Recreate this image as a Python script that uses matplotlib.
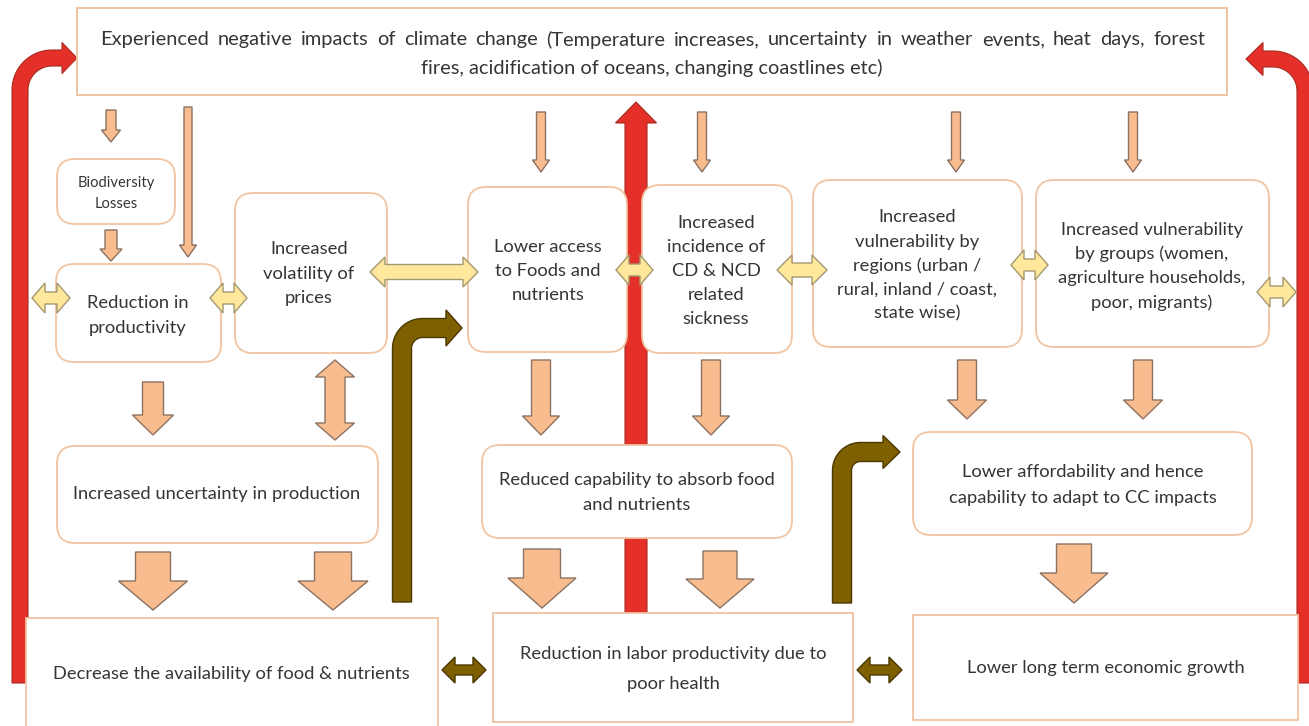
import numpy as np
import matplotlib
matplotlib.use("Agg")
import matplotlib.pyplot as plt
from matplotlib.patches import FancyBboxPatch, Polygon, Rectangle

plt.rcParams['font.family'] = ['Lato', 'DejaVu Sans']

# ---------------- data (texts) ----------------
top_line1 = ("Experienced negative impacts of climate change (Temperature increases, "
             "uncertainty in weather events, heat days, forest")
top_line2 = "fires, acidification of oceans, changing coastlines etc)"

box_labels = {
    'bio': ["Biodiversity", "Losses"],
    'prod': ["Reduction in", "productivity"],
    'vol': ["Increased", "volatility of", "prices"],
    'access': ["Lower access", "to Foods and", "nutrients"],
    'cd': ["Increased", "incidence of", "CD & NCD", "related", "sickness"],
    'regions': ["Increased", "vulnerability by", "regions (urban /", "rural, inland / coast,", "state wise)"],
    'groups': ["Increased vulnerability", "by groups (women,", "agriculture households,", "poor, migrants)"],
    'uncert': ["Increased uncertainty in production"],
    'avail': ["Decrease the availability of food & nutrients"],
    'absorb': ["Reduced capability to absorb food", "and nutrients"],
    'labor': ["Reduction in labor productivity due to", "poor health"],
    'afford': ["Lower affordability and hence", "capability to adapt to CC impacts"],
    'growth': ["Lower long term economic growth"],
}

# ---------------- layout (pixel coordinates) ----------------
W, H = 1309, 726
# box: (x0, y0, x1, y1, rounded)
box_geom = {
    'bio': (57, 159, 175, 224, True),
    'prod': (56, 264, 221, 362, True),
    'vol': (235, 193, 387, 353, True),
    'access': (468, 187, 627, 352, True),
    'cd': (642, 185, 792, 353, True),
    'regions': (813, 180, 1022, 347, True),
    'groups': (1036, 180, 1269, 347, True),
    'uncert': (57, 446, 378, 543, True),
    'avail': (26, 618, 438, 745, False),
    'absorb': (482, 445, 792, 538, True),
    'labor': (493, 613, 853, 722, False),
    'afford': (913, 432, 1252, 535, True),
    'growth': (913, 615, 1298, 720, False),
}
FS = 13.2
# text: (x center, first line y, line step, font size)
text_geom = {
    'bio': (116, 182, 20, 10.6),
    'prod': (138, 302, 24, FS),
    'vol': (309, 248, 24, FS),
    'access': (548, 245, 24, FS),
    'cd': (716, 222, 24, FS),
    'regions': (917, 216, 24, FS),
    'groups': (1152, 228, 24.3, FS),
    'uncert': (217, 493, 24, FS),
    'avail': (231, 672, 24, FS),
    'absorb': (637, 479, 25, FS),
    'labor': (673, 653, 29, FS),
    'afford': (1083, 471, 25, FS),
    'growth': (1106, 666, 24, FS),
}

ORANGE = dict(fc='#f9bc8f', ec='#8b7262', lw=1.0)
YELLOW = dict(fc='#ffe79c', ec='#a39870', lw=1.0)
BROWN = dict(fc='#7f6000', ec='#4a3800', lw=1.0)
RED = dict(fc='#e5302a', ec='#a82a20', lw=0.8)
BOX_EC = '#f1c4a2'
TXT = '#353535'

fig = plt.figure(figsize=(W / 100, H / 100), dpi=100)
ax = fig.add_axes([0, 0, 1, 1])
ax.set_xlim(0, W)
ax.set_ylim(H, 0)
ax.axis('off')
fig.patch.set_facecolor('white')


def poly(pts, style, z=3):
    ax.add_patch(Polygon(pts, closed=True, zorder=z, joinstyle='miter', **style))


def down_arrow(xc, y0, y1, sw, hw, hl, style):
    poly([(xc - sw / 2, y0), (xc + sw / 2, y0), (xc + sw / 2, y1 - hl), (xc + hw / 2, y1 - hl),
          (xc, y1), (xc - hw / 2, y1 - hl), (xc - sw / 2, y1 - hl)], style)


def up_arrow(xc, y0, y1, sw, hw, hl, style, z=1):
    poly([(xc, y0), (xc + hw / 2, y0 + hl), (xc + sw / 2, y0 + hl), (xc + sw / 2, y1),
          (xc - sw / 2, y1), (xc - sw / 2, y0 + hl), (xc - hw / 2, y0 + hl)], style, z)


def vdouble(xc, y0, y1, sw, hw, hl, style):
    poly([(xc, y0), (xc + hw / 2, y0 + hl), (xc + sw / 2, y0 + hl), (xc + sw / 2, y1 - hl),
          (xc + hw / 2, y1 - hl), (xc, y1), (xc - hw / 2, y1 - hl), (xc - sw / 2, y1 - hl),
          (xc - sw / 2, y0 + hl), (xc - hw / 2, y0 + hl)], style)


def hdouble(x0, x1, yc, sh, hh, hl, style):
    poly([(x0, yc), (x0 + hl, yc - hh / 2), (x0 + hl, yc - sh / 2), (x1 - hl, yc - sh / 2),
          (x1 - hl, yc - hh / 2), (x1, yc), (x1 - hl, yc + hh / 2), (x1 - hl, yc + sh / 2),
          (x0 + hl, yc + sh / 2), (x0 + hl, yc + hh / 2)], style)


def bent_arrow(xc, ybot, yc, xtip, xbase, w, hh, R, style, mirror=False, z=3):
    cx = xc - w / 2 + R
    cy = yc - w / 2 + R
    r = R - w
    pts = [(xc - w / 2, ybot), (xc - w / 2, cy)]
    for t in np.linspace(np.pi, 1.5 * np.pi, 24):
        pts.append((cx + R * np.cos(t), cy + R * np.sin(t)))
    pts += [(xbase, yc - w / 2), (xbase, yc - hh / 2), (xtip, yc), (xbase, yc + hh / 2),
            (xbase, yc + w / 2)]
    for t in np.linspace(1.5 * np.pi, np.pi, 24):
        pts.append((cx + r * np.cos(t), cy + r * np.sin(t)))
    pts.append((xc + w / 2, ybot))
    if mirror:
        pts = [(2 * xc - x, y) for x, y in pts]
    poly(pts, style, z)


# ---------------- red feedback arrows (behind boxes) ----------------
up_arrow(636, 102, 613, 22, 41, 21, RED, z=1)
bent_arrow(20, 683, 58, 77, 62, 16, 31, 40, RED, z=1)
bent_arrow(1305, 683, 59, 2 * 1305 - 1246, 2 * 1305 - 1263, 16, 33, 40, RED, mirror=True, z=1)

# ---------------- boxes ----------------
ax.add_patch(Rectangle((77, 8), 1227 - 77, 95 - 8, fc='white', ec=BOX_EC, lw=1.4, zorder=2))
for key, (x0, y0, x1, y1, rounded) in box_geom.items():
    if rounded:
        p = FancyBboxPatch((x0, y0), x1 - x0, y1 - y0,
                           boxstyle="round,pad=0,rounding_size=18",
                           fc='white', ec=BOX_EC, lw=1.3, zorder=2)
    else:
        p = Rectangle((x0, y0), x1 - x0, y1 - y0, fc='white', ec=BOX_EC, lw=1.3, zorder=2)
    ax.add_patch(p)

# ---------------- box texts ----------------
for key, lines in box_labels.items():
    xc, y0, step, fs = text_geom[key]
    for i, line in enumerate(lines):
        ax.text(xc, y0 + i * step, line, ha='center', va='center_baseline',
                fontsize=fs, color=TXT, zorder=5)

# top box: first line justified between two x limits, second centered
TOP_FS = 14.4
jx0, jx1, jy = 100, 1205, 38
words = top_line1.split(' ')
renderer = fig.canvas.get_renderer()
objs = [ax.text(0, jy, wd, ha='left', va='center_baseline', fontsize=TOP_FS, color=TXT, zorder=5)
        for wd in words]
widths = [o.get_window_extent(renderer).width for o in objs]
gap = (jx1 - jx0 - sum(widths)) / (len(words) - 1)
x = jx0
for o, wdt in zip(objs, widths):
    o.set_x(x)
    x += wdt + gap
ax.text(652, 66, top_line2, ha='center', va='center_baseline', fontsize=TOP_FS, color=TXT, zorder=5)

# ---------------- orange down arrows ----------------
thin = [(111, 110, 142, 10, 19, 12), (111, 230, 261, 12, 22, 12), (188, 107, 257, 8, 17, 12),
        (541, 112, 172, 9, 17, 12), (702, 112, 172, 9, 17, 12), (956, 112, 172, 9, 17, 12),
        (1133, 112, 172, 9, 17, 12)]
medium = [(153, 382, 435, 21, 41, 20), (541, 360, 435, 19, 37, 19), (711, 360, 435, 19, 37, 19),
          (967, 360, 419, 19, 39, 19), (1143, 360, 419, 19, 39, 19)]
large = [(153, 552, 610, 35, 69, 29), (333, 552, 610, 37, 70, 29), (542, 549, 608, 37, 68, 30),
         (720, 551, 608, 34, 68, 29), (1074, 544, 603, 35, 68, 30)]
for spec in thin + medium + large:
    down_arrow(*spec, ORANGE)
vdouble(335, 360, 440, 20, 39, 17, ORANGE)

# ---------------- yellow double arrows ----------------
yellow = [(32, 70, 298, 12, 30, 13), (210, 247, 298, 12, 30, 13), (370, 478, 272, 15, 30, 15),
          (616, 653, 270, 12, 30, 13), (777, 827, 270, 14, 30, 15), (1011, 1048, 265, 12, 30, 13),
          (1257, 1296, 292, 12, 30, 13)]
for spec in yellow:
    hdouble(*spec, YELLOW)

# ---------------- brown arrows ----------------
bent_arrow(402, 602, 328, 462, 446, 19, 36, 30, BROWN)
bent_arrow(842, 603, 452, 900, 883, 19, 33, 28, BROWN)
hdouble(442, 486, 670, 10, 26, 13, BROWN)
hdouble(857, 902, 670, 10, 26, 13, BROWN)

fig.savefig('out.png', dpi=100, facecolor='white')
